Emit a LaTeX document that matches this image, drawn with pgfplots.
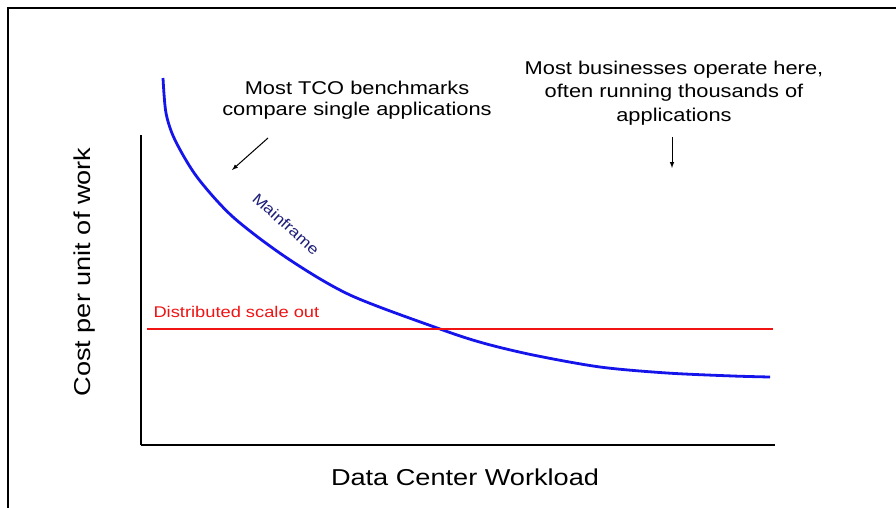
\documentclass[border=0pt]{standalone}
\usepackage{fontspec}
\setmainfont{Liberation Sans}[FakeStretch=1.18]
\usepackage{pgfplots}
\pgfplotsset{compat=1.18}
\definecolor{curveblue}{RGB}{20,20,235}
\definecolor{navy}{RGB}{30,30,120}
\definecolor{lred}{RGB}{240,20,20}
\begin{document}
\begin{tikzpicture}[x=1bp,y=-1bp]
\useasboundingbox (0,0) rectangle (896,508);
\fill[white] (0,0) rectangle (896,508);
\draw[line width=1.5bp] (8,508) -- (8,8) -- (896,8);
\begin{axis}[
  at={(141bp,-445bp)}, anchor=south west,
  scale only axis, width=634bp, height=310bp,
  xmin=0, xmax=634, ymin=0, ymax=310,
  axis x line=bottom, axis y line=left,
  axis line style={-, line width=1.3bp},
  xtick=\empty, ytick=\empty,
  clip=false,
  xlabel={Data Center Workload},
  ylabel={Cost per unit of work},
  xlabel style={at={(axis cs:324,-32)}, anchor=center, font=\fontsize{23bp}{26bp}\selectfont},
  ylabel style={at={(axis cs:-56,173)}, anchor=center, font=\fontsize{23bp}{26bp}\selectfont},
]
\addplot[curveblue, line width=2.8bp, smooth, tension=0.5] coordinates {
(22,367) (25,332) (34,305) (56,268) (92,228) (146,187) (209,150) (299,116)
(342,102) (392,90) (459,78) (526,72) (592,69) (629,68)};
\addplot[lred, line width=2.8bp] coordinates {(6,116) (632,116)};
\node[lred, anchor=west, font=\fontsize{15.5bp}{18bp}\selectfont] at (axis cs:9,133) {Distributed scale out};
\node[navy, rotate=-42, font=\fontsize{15bp}{18bp}\selectfont] at (axis cs:145,221) {Mainframe};
\end{axis}
\node[align=center, font=\fontsize{18.5bp}{21bp}\selectfont] at (357,100) {Most TCO benchmarks\\compare single applications};
\node[align=center, font=\fontsize{18.5bp}{23.5bp}\selectfont] at (674,93) {Most businesses operate here,\\often running thousands of\\applications};
\draw[-latex, line width=1bp] (268,138) -- (232,170);
\draw[-latex, line width=1bp] (672,137) -- (672,168);
\end{tikzpicture}
\end{document}
